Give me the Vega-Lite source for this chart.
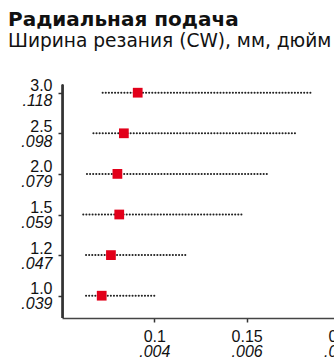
{
  "$schema": "https://vega.github.io/schema/vega-lite/v6.json",
  "autosize": "none",
  "padding": {"left": 62, "top": 85, "right": 0, "bottom": 40},
  "width": 277,
  "height": 233,
  "background": "white",
  "title": {
    "text": "Радиальная подача",
    "subtitle": "Ширина резания (CW), мм, дюйм",
    "anchor": "start",
    "frame": "group",
    "dx": -54,
    "font": "DejaVu Sans",
    "fontSize": 20,
    "fontWeight": "bold",
    "color": "#111",
    "subtitleFont": "DejaVu Sans",
    "subtitleFontSize": 18.6,
    "subtitleColor": "#111",
    "subtitlePadding": 2,
    "offset": 27
  },
  "config": {"view": {"stroke": null}},
  "data": {
    "values": [
      {"cw": "3.0", "inch": ".118", "min": 0.072, "rec": 0.091, "max": 0.186},
      {"cw": "2.5", "inch": ".098", "min": 0.067, "rec": 0.0835, "max": 0.1775},
      {"cw": "2.0", "inch": ".079", "min": 0.0635, "rec": 0.080, "max": 0.161},
      {"cw": "1.5", "inch": ".059", "min": 0.0615, "rec": 0.081, "max": 0.1475},
      {"cw": "1.2", "inch": ".047", "min": 0.063, "rec": 0.0765, "max": 0.117},
      {"cw": "1.0", "inch": ".039", "min": 0.063, "rec": 0.0715, "max": 0.100}
    ]
  },
  "resolve": {"axis": {"x": "independent", "y": "independent"}},
  "layer": [
    {
      "mark": {"type": "rule", "strokeWidth": 1.6, "color": "#333", "yOffset": -8},
      "encoding": {
        "x": {
          "datum": 0.0503, "type": "quantitative",
          "scale": {"domain": [0.05, 0.2], "nice": false, "zero": false},
          "axis": {
            "orient": "bottom", "title": null, "values": [0.1, 0.15, 0.2], "format": ".2~f",
            "grid": false, "labelFlush": false, "labelFont": "Liberation Sans", "labelFontSize": 16,
            "labelColor": "#111", "ticks": true, "tickSize": 4, "tickColor": "#333", "tickWidth": 1.5,
            "domain": true, "domainColor": "#444", "domainWidth": 1.5, "labelPadding": 6
          }
        },
        "y": {"datum": "3.0", "type": "ordinal", "axis": null},
        "y2": {"value": 233}
      }
    },
    {
      "mark": {"type": "rule", "strokeDash": [0.1, 3], "strokeCap": "round", "strokeWidth": 2, "color": "#222"},
      "encoding": {
        "x": {"field": "min", "type": "quantitative", "axis": null},
        "x2": {"field": "max"},
        "y": {
          "field": "cw", "type": "ordinal",
          "scale": {"type": "point", "padding": 0, "domain": ["3.0", "2.5", "2.0", "1.5", "1.2", "1.0"], "range": [7.7, 210.7]},
          "axis": {
            "orient": "left", "title": null, "grid": false, "labelFont": "Liberation Sans", "labelFontSize": 16,
            "labelColor": "#111", "labelBaseline": "alphabetic", "labelOffset": -2, "ticks": true, "tickSize": 4,
            "tickColor": "#333", "tickWidth": 1.5, "domain": false, "labelPadding": 6
          }
        }
      }
    },
    {
      "mark": {"type": "point", "shape": "square", "filled": true, "size": 95, "color": "#E2001A", "opacity": 1},
      "encoding": {
        "x": {
          "field": "rec", "type": "quantitative",
          "axis": {
            "orient": "bottom", "title": null, "values": [0.1, 0.15, 0.2],
            "labelExpr": "datum.value < 0.12 ? '.004' : (datum.value < 0.17 ? '.006' : '.008')",
            "grid": false, "labelFlush": false, "labelFont": "Liberation Sans", "labelFontSize": 16,
            "labelFontStyle": "italic", "labelColor": "#111", "ticks": false, "domain": false, "labelPadding": 25
          }
        },
        "y": {
          "field": "cw", "type": "ordinal",
          "axis": {
            "orient": "left", "title": null, "grid": false, "labelFont": "Liberation Sans", "labelFontSize": 16,
            "labelFontStyle": "italic", "labelColor": "#111", "labelBaseline": "alphabetic", "labelOffset": 13,
            "labelExpr": "{'3.0': '.118', '2.5': '.098', '2.0': '.079', '1.5': '.059', '1.2': '.047', '1.0': '.039'}[datum.value]",
            "ticks": false, "domain": false, "labelPadding": 10
          }
        }
      }
    }
  ]
}
